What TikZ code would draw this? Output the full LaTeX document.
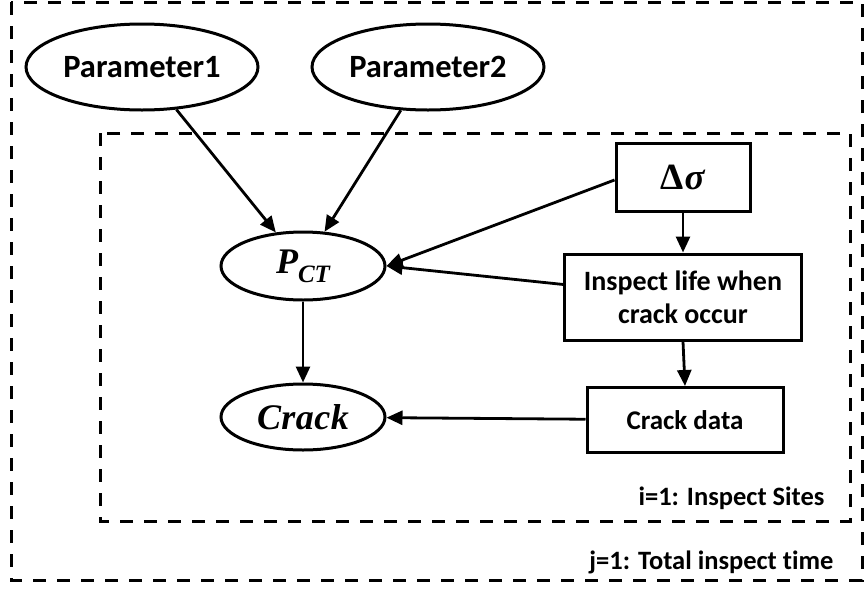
\documentclass[tikz,border=0pt]{standalone}
\usepackage{fontspec}
\setmainfont[Ligatures=NoCommon]{Carlito}
\newfontfamily\mser{Liberation Serif}
\usetikzlibrary{shapes.geometric,arrows.meta}
\begin{document}
\begin{tikzpicture}[x=1pt,y=-1pt,
  every node/.style={font=\bfseries},
  ell/.style={draw,ellipse,line width=3pt,inner sep=0pt},
  boxn/.style={draw,rectangle,line width=3pt,inner sep=0pt,align=center},
  dashbox/.style={draw,line width=3pt,dash pattern=on 13pt off 11pt},
  arr/.style={line width=2.8pt,-{Triangle[length=16pt,width=14pt]}},
  lbl/.style={anchor=east,font=\fontsize{26.5}{30}\selectfont\bfseries}]
\useasboundingbox (0,0) rectangle (865,592);
\draw[dashbox] (11,2) rectangle (862,580);
\draw[dashbox] (100,133) rectangle (850,521);
\node[ell,minimum width=232pt,minimum height=86pt,font=\fontsize{32.5}{36}\selectfont\bfseries] (p1) at (142,67) {Parameter1};
\node[ell,minimum width=232pt,minimum height=86pt,font=\fontsize{32.5}{36}\selectfont\bfseries] (p2) at (428,67) {Parameter2};
\node[ell,minimum width=164pt,minimum height=68pt,font=\fontsize{36}{40}\selectfont\mser\bfseries\itshape] (pct) at (303,266) {P\raisebox{-0.25em}{\fontsize{25}{26}\selectfont CT}};
\node[ell,minimum width=164pt,minimum height=66pt,font=\fontsize{36}{40}\selectfont\mser\bfseries\itshape] (crack) at (303,417) {C\kern0.5pt r\kern0.5pt a\kern0.5pt c\kern0.5pt k};
\node[boxn,minimum width=134pt,minimum height=68pt,font=\fontsize{37}{40}\selectfont\mser\bfseries] (ds) at (683,177) {Δ\kern1pt\textit{σ}};
\node[boxn,minimum width=237pt,minimum height=86pt,font=\fontsize{28}{33}\selectfont\bfseries] (il) at (683,297) {Inspect life when\\crack occur};
\node[boxn,minimum width=196pt,minimum height=65pt,font=\fontsize{27}{30}\selectfont\bfseries] (cd) at (685,420) {Crack data};
\node[lbl] (li) at (828,498) {i=1: Inspect Sites};
\node[lbl] (lj) at (837,562) {j=1: Total inspect time};
\draw[arr] (p1) -- (pct);
\draw[arr] (p2) -- (pct);
\draw[arr] (ds.west) ++(0,3) coordinate (dsw) -- (pct.east);
\draw[arr] (il) -- (pct.east);
\draw[arr] (ds) -- (il);
\draw[arr] (il.south) -- (cd.north);
\draw[arr] (cd) -- (crack);
\draw[arr] (pct) -- (crack);
\end{tikzpicture}
\end{document}
